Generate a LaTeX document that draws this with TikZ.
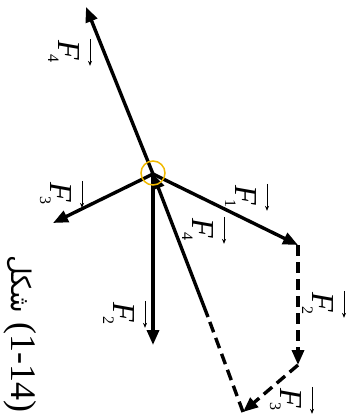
\documentclass[tikz,border=0pt]{standalone}
\usepackage{fontspec}
\setmainfont{Liberation Serif}
\newfontfamily\arabicfont[Script=Arabic]{DejaVu Sans}
\TeXXeTstate=1
\usetikzlibrary{arrows.meta}
\newcommand{\vlab}[1]{\makebox[24pt][l]{\itshape F\kern-5pt\raisebox{-10pt}{\fontsize{16}{16}\selectfont\upshape #1}}\llap{\raisebox{32pt}{\tikz[baseline=0pt]\draw[line width=0.7pt,-{Stealth[length=5pt,width=4pt]}] (0pt,0pt) -- (27pt,0pt);}\kern-2pt}}
\begin{document}
\begin{tikzpicture}[x=1pt,y=-1pt,
  force/.style={line width=3.4pt,-{Triangle[length=15pt,width=12pt]}},
  dforce/.style={force,dash pattern=on 11pt off 6pt},
  dline/.style={line width=3.4pt,dash pattern=on 11pt off 6pt},
  lbl/.style={rotate=-90,anchor=base west,font=\fontsize{32}{34}\selectfont,inner sep=0pt},
  captext/.style={rotate=-90,font=\fontsize{36}{38}\selectfont,inner sep=0pt}]
\useasboundingbox (0,0) rectangle (356,420);
\coordinate (O) at (153,174);
\coordinate (T4) at (86,7);
\coordinate (T3) at (53,223);
\coordinate (T2) at (153,345);
\coordinate (A) at (298,245);
\coordinate (B) at (298,365);
\coordinate (C) at (243,412);
\coordinate (P) at (208,317);
\draw[force] (O) -- (T4);
\draw[force] (O) -- (T3);
\draw[force] (O) -- (T2);
\draw[force] (O) -- (A);
\draw[dforce] (A) -- (B);
\draw[dforce] (B) -- (C);
\draw[dline] (C) -- (P);
\draw[force] (P) -- (O);
\draw[draw={rgb,255:red,240;green,185;blue,0},line width=1.5pt] (153,173) circle (12);
\node[lbl] (l4) at (58,40) {\vlab{4}};
\node[lbl] (l3) at (50,182) {\vlab{3}};
\node[lbl] (l1) at (235,185) {\vlab{1}};
\node[lbl] (l4b) at (192,218) {\vlab{4}};
\node[lbl] (l2) at (113,302) {\vlab{2}};
\node[lbl] (l2b) at (312,292) {\vlab{2}};
\node[lbl] (l3b) at (280,388) {\vlab{3}};
\node[captext] (caption) at (20,334) {{\arabicfont\fontsize{27}{29}\selectfont\beginR شکل\endR} (1-14)};
\end{tikzpicture}
\end{document}
